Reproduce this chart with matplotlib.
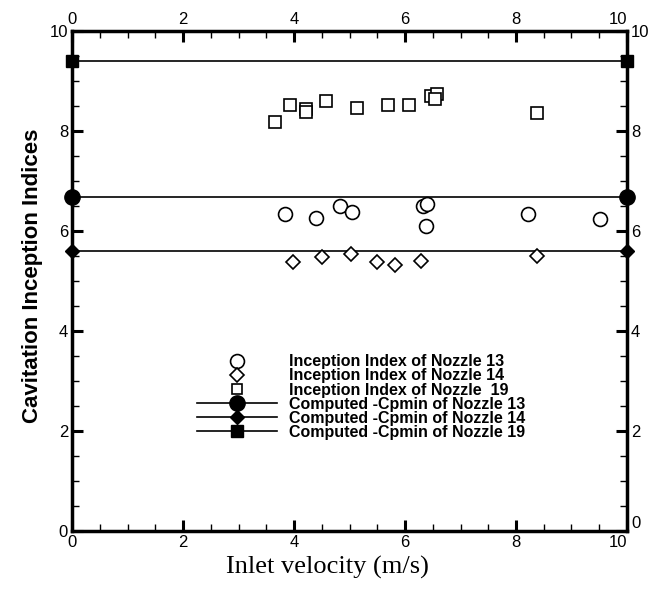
import matplotlib
matplotlib.use("Agg")
import matplotlib.pyplot as plt
from matplotlib.ticker import MultipleLocator
from matplotlib.lines import Line2D

# Measured inception indices
v13 = [3.83, 4.40, 4.82, 5.04, 6.33, 6.40, 6.38, 8.22, 9.51]
s13 = [6.33, 6.25, 6.50, 6.37, 6.49, 6.53, 6.09, 6.33, 6.23]

v14 = [3.98, 4.51, 5.03, 5.49, 5.81, 6.29, 8.37]
s14 = [5.38, 5.47, 5.53, 5.38, 5.32, 5.39, 5.49]

v19 = [3.65, 3.93, 4.21, 4.21, 4.57, 5.13, 5.70, 6.07, 6.47, 6.57, 6.54, 8.38]
s19 = [8.17, 8.52, 8.43, 8.37, 8.60, 8.46, 8.51, 8.51, 8.69, 8.74, 8.64, 8.35]

# Computed -Cpmin levels
v_line = [0, 10]
cp13 = 6.67
cp14 = 5.59
cp19 = 9.40

xticks = [0, 2, 4, 6, 8, 10]
yticks = [0, 2, 4, 6, 8, 10]

fig = plt.figure(figsize=(6.51, 5.89), dpi=100)
ax = fig.add_axes([0.111, 0.0985, 0.852, 0.849])

ax.plot(v_line, [cp19] * 2, color="black", lw=1.2, marker="s", ms=8,
        markerfacecolor="black", clip_on=False, zorder=3)
ax.plot(v_line, [cp13] * 2, color="black", lw=1.2, marker="o", ms=11,
        markerfacecolor="black", clip_on=False, zorder=3)
ax.plot(v_line, [cp14] * 2, color="black", lw=1.2, marker="D", ms=7,
        markerfacecolor="black", clip_on=False, zorder=3)

ax.plot(v13, s13, linestyle="none", marker="o", ms=10, mfc="white",
        mec="black", mew=1.2, zorder=4)
ax.plot(v14, s14, linestyle="none", marker="D", ms=7.5, mfc="white",
        mec="black", mew=1.2, zorder=4)
ax.plot(v19, s19, linestyle="none", marker="s", ms=8, mfc="white",
        mec="black", mew=1.2, zorder=4)

ax.set_xlim(0, 10)
ax.set_ylim(0, 10)
ax.set_xticks(xticks)
ax.set_yticks(yticks)
ax.xaxis.set_minor_locator(MultipleLocator(0.5))
ax.yaxis.set_minor_locator(MultipleLocator(0.5))
ax.tick_params(which="both", direction="in", top=True, right=True,
               labeltop=True, labelright=True)
ax.tick_params(which="major", length=8, width=2.2, labelsize=12, pad=3)
ax.tick_params(which="minor", length=5, width=1.0)
for lab in ax.get_xticklabels() + ax.get_yticklabels():
    lab.set_family("Liberation Sans")
for sp in ax.spines.values():
    sp.set_linewidth(2.5)

# corner labels sit just inside the right edge so they clear the y labels
last_x = ax.xaxis.get_major_ticks()[-1]
last_x.label1.set_horizontalalignment("right")
last_x.label2.set_horizontalalignment("right")
ax.yaxis.get_major_ticks()[0].label2.set_verticalalignment("bottom")

ax.set_xlabel("Inlet velocity (m/s)", family="Liberation Serif", fontsize=19)
ax.xaxis.set_label_coords(0.46, -0.05)
ax.set_ylabel("Cavitation Inception Indices", family="Liberation Sans",
              fontsize=16, fontweight="bold")
ax.yaxis.set_label_coords(-0.053, 0.511)

handles = [
    Line2D([], [], ls="none", marker="o", ms=10, mfc="white", mec="black", mew=1.2),
    Line2D([], [], ls="none", marker="D", ms=7, mfc="white", mec="black", mew=1.2),
    Line2D([], [], ls="none", marker="s", ms=7.5, mfc="white", mec="black", mew=1.2),
    Line2D([], [], color="black", lw=1.2, marker="o", ms=11, mfc="black"),
    Line2D([], [], color="black", lw=1.2, marker="D", ms=7, mfc="black"),
    Line2D([], [], color="black", lw=1.2, marker="s", ms=8, mfc="black"),
]
labels = [
    "Inception Index of Nozzle 13",
    "Inception Index of Nozzle 14",
    "Inception Index of Nozzle  19",
    "Computed -Cpmin of Nozzle 13",
    "Computed -Cpmin of Nozzle 14",
    "Computed -Cpmin of Nozzle 19",
]
leg = ax.legend(handles, labels, loc="upper left", bbox_to_anchor=(0.21, 0.369),
                frameon=False, borderpad=0, handlelength=5.0,
                handletextpad=0.78, labelspacing=-0.06,
                prop={"family": "Liberation Sans", "weight": "bold",
                      "size": 11.5})

fig.savefig("out.png", dpi=100)
